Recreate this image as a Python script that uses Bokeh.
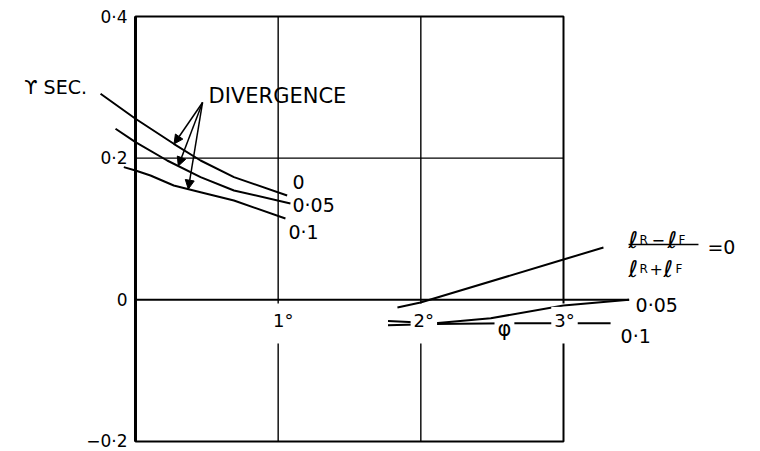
import numpy as np
from bokeh.plotting import figure
from bokeh.models import ColumnDataSource, Arrow, NormalHead
from bokeh.core.properties import value
from bokeh.embed import file_html
from bokeh.resources import INLINE

FONT = value("DejaVu Sans")

# Lag (sec) against phi (deg) for three divergence values
div_labels = ["0", "0·05", "0·1"]
phi_div_0 = [-0.245, 0.0, 0.268, 0.456, 0.69, 1.063]
lag_div_0 = [0.291, 0.2556, 0.2203, 0.1967, 0.1732, 0.1473]
phi_div_005 = [-0.14, 0.0, 0.222, 0.456, 0.69, 1.086]
lag_div_005 = [0.2415, 0.2226, 0.1967, 0.1732, 0.1544, 0.136]
phi_div_01 = [-0.082, 0.0, 0.105, 0.268, 0.456, 0.69, 1.051]
lag_div_01 = [0.1873, 0.1826, 0.1755, 0.1614, 0.152, 0.1402, 0.1148]

# Lag against phi for three values of (lR - lF)/(lR + lF)
ratio_labels = ["0·05", "0·1"]
phi_rat_0 = [1.836, 1.998, 3.0, 3.28]
lag_rat_0 = [-0.0108, -0.0038, 0.0569, 0.0739]
phi_rat_005 = [1.77, 2.10, 2.49, 3.0, 3.46]
lag_rat_005 = [-0.030, -0.033, -0.026, -0.008, 0.0]
phi_rat_01 = [1.77, 2.10, 2.75, 3.33]
lag_rat_01 = [-0.036, -0.034, -0.033, -0.033]

# Axes
y_ticks = [0.4, 0.2, 0.0, -0.2]
y_tick_labels = ["0·4", "0·2", "0", "−0·2"]
x_ticks = [1, 2, 3]
x_tick_labels = ["1°", "2°", "3°"]
x_min, x_max = 0, 3
y_min, y_max = -0.2, 0.4

# where the DIVERGENCE arrows point on each curve
arrow_phi = [0.27, 0.30, 0.37]

p = figure(width=760, height=451, x_range=(-0.94626, 4.38084), y_range=(-0.21412, 0.42259),
           x_axis_location=None, y_axis_location=None, toolbar_location=None,
           output_backend="svg", min_border=0)
p.outline_line_color = None
p.grid.visible = False
p.background_fill_color = "white"
p.border_fill_color = "white"

# plotting box and grid
p.quad(left=x_min, right=x_max, bottom=y_min, top=y_max, fill_color=None,
       line_color="black", line_width=2)
p.segment(x0=[x_min], y0=[y_min], x1=[x_min], y1=[y_max], line_color="black", line_width=3)
p.segment(x0=[1, 2], y0=[y_min] * 2, x1=[1, 2], y1=[y_max] * 2, line_color="black", line_width=1.4)
p.segment(x0=[x_min], y0=[0.2], x1=[x_max], y1=[0.2], line_color="black", line_width=1.4)

# breaks in the verticals where the phi scale is lettered
p.rect(x=x_ticks, y=[-0.0334] * 3, width=12, height=40, width_units="screen",
       height_units="screen", fill_color="white", line_color=None)

# divergence family
for xs, ys in [(phi_div_0, lag_div_0), (phi_div_005, lag_div_005), (phi_div_01, lag_div_01)]:
    p.line(xs, ys, line_color="black", line_width=2)

# ratio = 0.1 curve, broken by the phi title
p.line(phi_rat_01, lag_rat_01, line_color="black", line_width=2)
p.text(x=[2.586], y=[-0.041], text=["φ"], text_align="center", text_baseline="middle",
       text_font=FONT, text_font_size="21px", text_color="black",
       background_fill_color="white", padding=3)

# ratio = 0.05 curve, then the degree labels that break both lower curves
p.line(phi_rat_005, lag_rat_005, line_color="black", line_width=2)
p.text(x=x_ticks, y=[-0.029] * 3, text=x_tick_labels, x_offset=[5, 3, 1], text_align="center",
       text_baseline="middle", text_font=FONT, text_font_size="18px", text_color="black",
       background_fill_color="white", padding=3)

# y tick labels
p.text(x=[x_min] * 4, y=y_ticks, text=y_tick_labels, x_offset=-8, text_align="right",
       text_baseline="middle", text_font=FONT, text_font_size="17px", text_color="black")

# zero line (extended) and the ratio = 0 curve on top
p.segment(x0=[x_min], y0=[0], x1=[phi_rat_005[-1]], y1=[0], line_color="black", line_width=2)
p.line(phi_rat_0, lag_rat_0, line_color="black", line_width=2)

# curve labels
div_y = [0.1657, 0.1332, 0.0951]
p.text(x=[1.100, 1.100, 1.072], y=div_y, text=div_labels, text_align="left",
       text_baseline="middle", text_font=FONT, text_font_size="19px", text_color="black")
p.text(x=[3.505, 3.400], y=[-0.008, -0.0504], text=ratio_labels, text_align="left",
       text_baseline="middle", text_font=FONT, text_font_size="19px", text_color="black")

p.text(x=[-0.56], y=[0.2998], text=["ϒ SEC."], text_align="center", text_baseline="middle",
       text_font=FONT, text_font_size="19px", text_color="black")
p.text(x=[0.512], y=[0.2878], text=["DIVERGENCE"], text_align="left", text_baseline="middle",
       text_font=FONT, text_font_size="21px", text_color="black")

# (lR - lF)/(lR + lF) = 0
frac_x = 3.456
num_y, den_y = 0.0838, 0.0442
p.text(x=[frac_x] * 4, y=[num_y, num_y, den_y, den_y], text=["ℓ"] * 4,
       x_offset=[0, 39, 0, 35], text_baseline="alphabetic", text_font=FONT,
       text_font_size="23px", text_color="black")
p.text(x=[frac_x] * 4, y=[num_y, num_y, den_y, den_y], text=["R", "F", "R", "F"],
       x_offset=[11, 50, 11, 47], text_baseline="alphabetic", text_font=FONT,
       text_font_size="12px", text_color="black")
p.text(x=[frac_x] * 2, y=[num_y, den_y], text=["−", "+"], x_offset=[23, 21],
       text_baseline="alphabetic", text_font=FONT, text_font_size="16px", text_color="black")
p.segment(x0=[frac_x], y0=[0.0781], x1=[3.946], y1=[0.0781], line_color="black", line_width=1.5)
p.text(x=[4.009], y=[0.0739], text=["=0"], text_baseline="middle", text_font=FONT,
       text_font_size="19px", text_color="black")

# arrows from the DIVERGENCE note to each curve
arrow_y = [float(np.interp(a, xs, ys)) for a, xs, ys in
           zip(arrow_phi, [phi_div_0, phi_div_005, phi_div_01], [lag_div_0, lag_div_005, lag_div_01])]
arrows = ColumnDataSource(dict(x0=[0.47] * 3, y0=[0.2786] * 3, x1=arrow_phi, y1=arrow_y))
p.add_layout(Arrow(source=arrows, x_start="x0", y_start="y0", x_end="x1", y_end="y1",
                   line_color="black", line_width=1.5,
                   end=NormalHead(size=9, fill_color="black", line_color="black", line_width=1)))

open("out.html", "w").write(file_html(p, INLINE))
